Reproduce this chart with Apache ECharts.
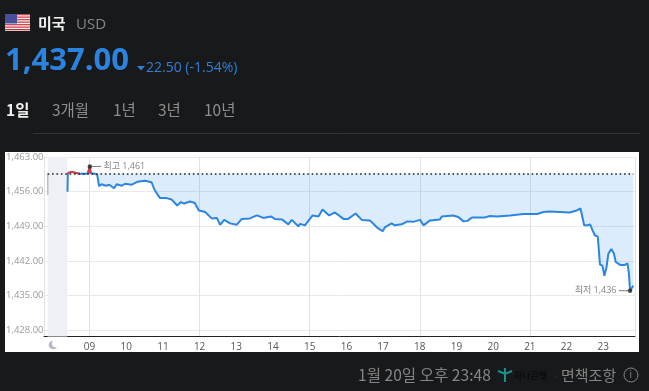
<!DOCTYPE html>
<html><head><meta charset="utf-8">
<style>html,body{margin:0;padding:0;background:#18191b}#c{width:649px;height:391px}</style>
<script src="https://cdn.jsdelivr.net/npm/echarts@6/dist/echarts.min.js"></script>
</head><body><div id="c"></div>
<script>
const yTicks = [1428, 1435, 1442, 1449, 1456, 1463];
const hourTicks = [9, 10, 11, 12, 13, 14, 15, 16, 17, 18, 19, 20, 21, 22, 23];
const prevClose = 1459.6;
const hours = [8.40,8.41,8.51,8.74,8.94,8.98,9.01,9.03,9.15,9.21,9.26,9.33,9.45,9.54,9.67,9.74,9.88,9.97,10.15,10.30,10.51,10.69,10.77,10.92,11.10,11.24,11.39,11.49,11.58,11.74,11.87,11.98,12.15,12.33,12.47,12.56,12.67,12.83,13.01,13.15,13.37,13.56,13.74,13.94,14.05,14.24,14.42,14.51,14.69,14.74,14.87,15.08,15.24,15.35,15.53,15.69,15.92,16.05,16.25,16.42,16.64,16.83,16.99,17.05,17.10,17.23,17.32,17.51,17.66,17.82,18.01,18.10,18.28,18.55,18.60,18.91,19.05,19.19,19.30,19.42,19.78,19.91,20.10,20.46,20.82,21.20,21.37,21.53,21.58,22.09,22.28,22.38,22.48,22.53,22.57,22.64,22.71,22.77,22.85,22.88,22.91,22.98,23.03,23.09,23.14,23.22,23.29,23.34,23.46,23.50,23.59,23.66,23.70,23.73,23.82];
const rates = [1456.0,1459.8,1460.0,1459.6,1459.6,1459.7,1461.1,1459.7,1459.6,1459.4,1457.1,1457.5,1457.2,1457.4,1456.7,1457.5,1457.2,1457.6,1457.4,1458.0,1458.2,1457.9,1456.4,1454.7,1454.7,1454.4,1453.2,1453.9,1453.6,1454.0,1453.7,1452.2,1451.9,1450.6,1450.7,1449.3,1450.3,1449.6,1449.3,1450.5,1450.6,1451.2,1450.7,1451.0,1450.5,1450.4,1449.4,1450.3,1449.0,1449.5,1449.2,1451.2,1451.0,1452.4,1451.2,1451.8,1450.5,1450.5,1451.6,1450.3,1450.2,1448.8,1448.0,1448.8,1448.4,1449.6,1449.2,1449.4,1450.0,1449.9,1450.3,1449.2,1450.2,1450.4,1451.0,1451.2,1450.9,1450.0,1450.1,1450.8,1450.8,1451.1,1451.0,1451.2,1451.5,1451.5,1451.9,1452.0,1451.8,1451.8,1452.2,1452.6,1449.2,1449.5,1449.2,1449.4,1448.2,1447.2,1446.9,1444.2,1441.3,1441.0,1439.0,1440.8,1443.5,1444.4,1443.5,1441.8,1441.2,1441.5,1441.2,1441.5,1439.4,1436.0,1437.0];
const aboveHours = [8.41,8.51,8.74];
const aboveRates = [1459.8,1460.0,1459.6];
const spikeHours = [8.98,9.01,9.03];
const spikeRates = [1459.7,1461.1,1459.7];
const preHours = [7.86,7.865];
const preRates = [1459.6,1455.3];
const nightStart = 7.86, nightEnd = 8.395;
const highPoint = [9.01, 1461.1];
const lowPoint = [23.73, 1436.0];
const tabs = [['1일',6],['3개월',52],['1년',113],['3년',158],['10년',204]];

const FONT = '"Open Sans","Noto Sans CJK KR",sans-serif';
const KR = '"Noto Sans CJK KR",sans-serif';
const zip = (a,b)=>a.map((v,i)=>[v,b[i]]);
const txt = (text,x,y,size,fill,weight,family)=>({type:'text',x,y,style:{text,fill,fontSize:size,fontWeight:weight||'normal',fontFamily:family||FONT,verticalAlign:'middle',align:'left'}});

const flagStripes = [];
for(let i=0;i<7;i++){flagStripes.push({type:'rect',shape:{x:5,y:14+i*2.5,width:25,height:1.3},style:{fill:i===6?'#c8323c':'#d2454c'}});}

const chart = echarts.init(document.getElementById('c'),null,{renderer:'canvas'});
chart.setOption({
  animation:false,
  backgroundColor:'#18191b',
  grid:{left:44,top:157,width:591,height:179.5,containLabel:false},
  xAxis:{type:'value',min:7.76,max:23.865,
    axisLine:{onZero:false,lineStyle:{color:'#222',width:1}},axisTick:{show:false},
    splitLine:{show:true,lineStyle:{color:'#e2e2e2',width:1}},
    axisLabel:{customValues:hourTicks,margin:6,fontSize:10,color:'#555',fontFamily:FONT,hideOverlap:false,showMinLabel:true,showMaxLabel:true,
      formatter:v=>String(v).padStart(2,'0')},
  },
  yAxis:{type:'value',min:1426.75,max:1463,
    axisLine:{show:false},axisTick:{show:false,customValues:yTicks},
    splitLine:{show:true,lineStyle:{color:'#e9e9e9',width:1}},
    axisLabel:{customValues:yTicks,align:'left',margin:38,fontSize:9.5,color:'#9a9a9a',fontFamily:FONT,
      showMinLabel:true,showMaxLabel:true,
      formatter:v=>echarts.format.addCommas(v.toFixed(2))}
  },
  series:[
    {type:'line',data:zip(preHours,preRates),showSymbol:false,silent:true,lineStyle:{color:'#bdbdbd',width:1.5},
      markArea:{silent:true,itemStyle:{color:'#eef0f6'},data:[[{xAxis:nightStart},{xAxis:nightEnd}]]}},
    {type:'line',data:zip(hours,rates),showSymbol:false,silent:true,
      lineStyle:{color:'#2b86e2',width:2},
      areaStyle:{origin:prevClose,color:'rgba(70,155,245,0.27)'},
      markLine:{silent:true,symbol:'none',label:{show:false},
        lineStyle:{color:'#222',type:[1.6,2.8],width:1.6,cap:'butt'},
        data:[[{coord:[nightStart,prevClose]},{coord:[23.82,prevClose]}]]}},
    {type:'line',data:zip(aboveHours,aboveRates),showSymbol:false,silent:true,lineStyle:{color:'#e0383c',width:1.8},z:3},
    {type:'line',data:zip(spikeHours,spikeRates),showSymbol:false,silent:true,lineStyle:{color:'#e0383c',width:2},z:3},
    {type:'scatter',data:[highPoint],symbolSize:4.5,itemStyle:{color:'#222'},z:5,silent:true,
      label:{show:true,position:'right',distance:-1,formatter:'{l|}{t| 최고 1,461}',
        rich:{l:{width:10,height:1,backgroundColor:'#555'},t:{fontSize:9,color:'#666',fontFamily:FONT}}}},
    {type:'scatter',data:[lowPoint],symbolSize:4.5,itemStyle:{color:'#222'},z:5,silent:true,
      label:{show:true,position:'left',distance:-1,formatter:'{t|최저 1,436 }{l|}',
        rich:{l:{width:10,height:1,backgroundColor:'#555'},t:{fontSize:9,color:'#666',fontFamily:FONT}}}}
  ],
  graphic:{elements:[
    {type:'rect',z:-10,shape:{x:5,y:152,width:634,height:200},style:{fill:'#fff'}},
    {type:'circle',shape:{cx:53,cy:345,r:4.3},style:{fill:'#b4b8c8'}},
    {type:'circle',shape:{cx:55.6,cy:343.4,r:3.6},style:{fill:'#fff'}},
    {type:'rect',shape:{x:5,y:14,width:25,height:17},style:{fill:'#f2f2f2'}},
    ...flagStripes,
    {type:'rect',shape:{x:5,y:14,width:12,height:9.5},style:{fill:'#4a4f9c'}},
    txt('미국',38,23.5,15,'#f0f0f0','bold',KR),
    txt('USD',76,24.5,15,'#858585'),
    txt('1,437.00',5,61,31,'#2b83e0','bold'),
    {type:'polygon',shape:{points:[[137,66],[145,66],[141,70.5]]},style:{fill:'#2f7fd6'}},
    txt('22.50 (-1.54%)',146,68,14,'#2f7fd6'),
    ...tabs.map((t,i)=>txt(t[0],t[1],110,15.5,i===0?'#f0f0f0':'#8d8d8d',i===0?'bold':'normal',KR)),
    {type:'line',shape:{x1:33,y1:133.5,x2:640,y2:133.5},style:{stroke:'#333436',lineWidth:1}},
    txt('1월 20일 오후 23:48',358,375,15.6,'#858585','normal',KR),
    {type:'polyline',shape:{points:[[498,371],[505,374],[512,371]]},style:{stroke:'#17938c',fill:null,lineWidth:2}},
    {type:'line',shape:{x1:505,y1:368,x2:505,y2:382},style:{stroke:'#17938c',lineWidth:2}},
    txt('하나은행',514,376,9,'#0c0c0c','bold',KR),
    txt('·',553,376,12,'#333',null,KR),
    txt('면책조항',561,375,15,'#858585','normal',KR),
    {type:'circle',shape:{cx:631,cy:375,r:7},style:{stroke:'#858585',fill:null,lineWidth:1}},
    txt('i',629.5,375,10,'#858585')
  ]}
});
</script></body></html>
